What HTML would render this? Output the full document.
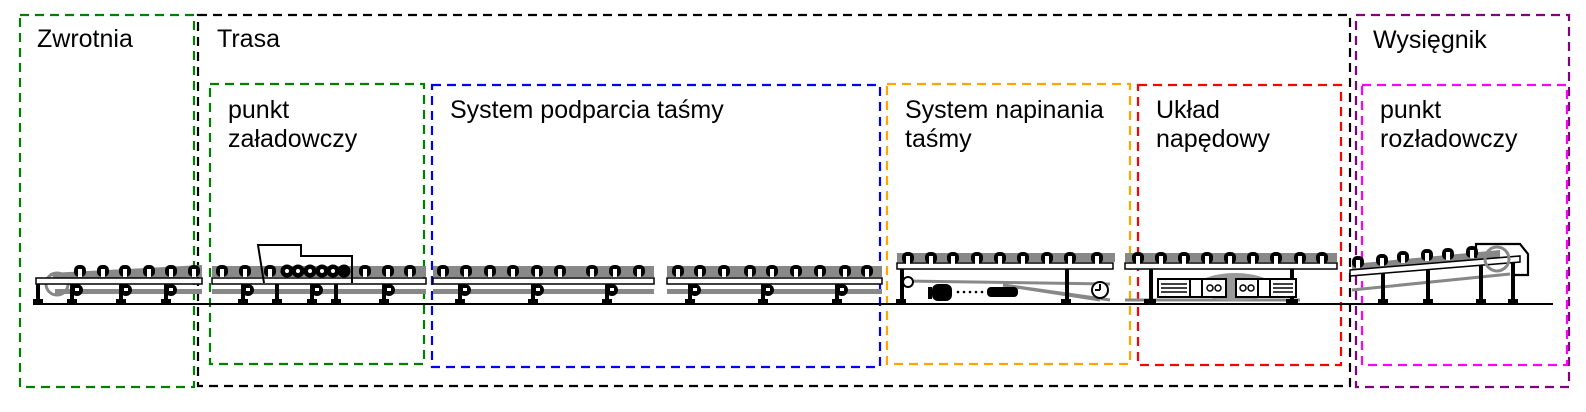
<!DOCTYPE html>
<html><head><meta charset="utf-8"><style>
html,body{margin:0;padding:0;background:#fff;}
svg{display:block;}
text{font-family:"Liberation Sans",Arial,sans-serif;font-size:25px;fill:#000;}
</style></head><body>
<svg width="1586" height="412" viewBox="0 0 1586 412" xmlns="http://www.w3.org/2000/svg">
<defs>
<g id="r"><rect x="-6" y="-1" width="12" height="12" rx="5" fill="#000"/><rect x="-2" y="3" width="4" height="8" fill="#fff"/></g>
<g id="leg"><rect x="-2" y="0" width="4" height="18" fill="#000"/><rect x="-5" y="15" width="10" height="5" fill="#000"/></g>
<g id="legb"><rect x="-2" y="0" width="4" height="18" fill="#000"/><rect x="-5" y="15" width="10" height="5" fill="#000"/><circle cx="5" cy="6" r="6" fill="#000"/><rect x="3" y="4" width="4" height="3" fill="#fff"/></g>
</defs>
<g fill="none" stroke-width="2.2" stroke-dasharray="9,6">
<rect x="20" y="15" width="174" height="372" stroke="#008000"/>
<rect x="198" y="15" width="1152" height="371" stroke="#000"/>
<rect x="1356" y="15" width="213" height="372" stroke="#800080"/>
<rect x="210" y="84" width="214" height="280" stroke="#008000"/>
<rect x="432" y="85" width="448" height="282" stroke="#0000ff"/>
<rect x="887" y="84" width="243" height="280" stroke="#ffa500"/>
<rect x="1138" y="85" width="203" height="280" stroke="#ff0000"/>
<rect x="1362" y="85" width="205" height="280" stroke="#ff00ff"/>
</g>
<text x="37" y="47">Zwrotnia</text>
<text x="217" y="47">Trasa</text>
<text x="1373" y="48">Wysięgnik</text>
<text x="228" y="118">punkt</text><text x="228" y="147">załadowczy</text>
<text x="450" y="118">System podparcia taśmy</text>
<text x="905" y="118">System napinania</text><text x="905" y="147">taśmy</text>
<text x="1156" y="118">Układ</text><text x="1156" y="147">napędowy</text>
<text x="1380" y="118">punkt</text><text x="1380" y="147">rozładowczy</text>

<line x1="33" y1="304" x2="1553" y2="304" stroke="#000" stroke-width="2"/>

<!-- seg1 -->
<polygon points="50,273 202,265 202,277 55,280" fill="#888"/>
<rect x="55" y="289" width="147" height="5" fill="#888"/>
<circle cx="57" cy="284" r="11" fill="none" stroke="#888" stroke-width="3"/>
<rect x="36" y="278" width="166" height="6" fill="#fff" stroke="#000" stroke-width="1.5"/>
<use href="#r" x="80" y="266"/><use href="#r" x="103" y="266"/><use href="#r" x="125" y="266"/><use href="#r" x="149" y="266"/><use href="#r" x="171" y="266"/><use href="#r" x="194" y="266"/>
<use href="#leg" x="38" y="284"/><use href="#legb" x="72" y="284"/><use href="#legb" x="121" y="284"/><use href="#legb" x="166" y="284"/>

<!-- seg2 -->
<rect x="212" y="266" width="214" height="11" fill="#888"/>
<rect x="212" y="289" width="214" height="5" fill="#888"/>
<rect x="212" y="278" width="214" height="6" fill="#fff" stroke="#000" stroke-width="1.5"/>
<use href="#r" x="222" y="266"/><use href="#r" x="245" y="266"/><use href="#r" x="270" y="266"/>
<g fill="#000"><circle cx="287" cy="271" r="6.5"/><circle cx="298" cy="271" r="6.5"/><circle cx="310" cy="271" r="6.5"/><circle cx="322" cy="271" r="6.5"/><circle cx="333" cy="271" r="6.5"/><circle cx="344" cy="271" r="6.5"/></g>
<g fill="#fff"><circle cx="287" cy="271" r="2"/><circle cx="298" cy="271" r="2"/><circle cx="310" cy="271" r="2"/><circle cx="322" cy="271" r="2"/><circle cx="333" cy="271" r="2"/></g>
<use href="#r" x="365" y="266"/><use href="#r" x="388" y="266"/><use href="#r" x="410" y="266"/>
<polyline points="264,283 258,245 301,245 301,256 352,256 352,283" fill="none" stroke="#000" stroke-width="2"/>
<use href="#legb" x="243" y="284"/><use href="#leg" x="277" y="284"/><use href="#legb" x="312" y="284"/><use href="#leg" x="336" y="284"/><use href="#legb" x="384" y="284"/>

<!-- seg3 -->
<rect x="433" y="266" width="221" height="11" fill="#888"/>
<rect x="433" y="289" width="221" height="5" fill="#888"/>
<rect x="433" y="278" width="221" height="6" fill="#fff" stroke="#000" stroke-width="1.5"/>
<use href="#r" x="443" y="266"/><use href="#r" x="466" y="266"/><use href="#r" x="490" y="266"/><use href="#r" x="513" y="266"/><use href="#r" x="537" y="266"/><use href="#r" x="560" y="266"/><use href="#r" x="592" y="266"/><use href="#r" x="615" y="266"/><use href="#r" x="639" y="266"/>
<use href="#legb" x="460" y="284"/><use href="#legb" x="533" y="284"/><use href="#legb" x="607" y="284"/>

<!-- seg4 -->
<rect x="667" y="266" width="215" height="11" fill="#888"/>
<rect x="667" y="289" width="215" height="5" fill="#888"/>
<rect x="667" y="278" width="215" height="6" fill="#fff" stroke="#000" stroke-width="1.5"/>
<use href="#r" x="678" y="266"/><use href="#r" x="700" y="266"/><use href="#r" x="724" y="266"/><use href="#r" x="750" y="266"/><use href="#r" x="772" y="266"/><use href="#r" x="796" y="266"/><use href="#r" x="820" y="266"/><use href="#r" x="845" y="266"/><use href="#r" x="867" y="266"/>
<use href="#legb" x="690" y="284"/><use href="#legb" x="763" y="284"/><use href="#legb" x="837" y="284"/>

<!-- seg5 -->
<rect x="897" y="253" width="218" height="9" fill="#888"/>
<rect x="897" y="263" width="216" height="6" fill="#fff" stroke="#000" stroke-width="1.5"/>
<use href="#r" x="908" y="253"/><use href="#r" x="931" y="253"/><use href="#r" x="953" y="253"/><use href="#r" x="977" y="253"/><use href="#r" x="1000" y="253"/><use href="#r" x="1023" y="253"/><use href="#r" x="1047" y="253"/><use href="#r" x="1070" y="253"/><use href="#r" x="1097" y="253"/>
<line x1="905" y1="281" x2="1110" y2="284" stroke="#888" stroke-width="3"/>
<line x1="1003" y1="285" x2="1100" y2="300" stroke="#888" stroke-width="3"/>
<line x1="1003" y1="285" x2="1110" y2="300" stroke="#888" stroke-width="3"/>
<rect x="900" y="269" width="4" height="31" fill="#000"/><rect x="896" y="299" width="10" height="4" fill="#000"/>
<rect x="1065" y="269" width="4" height="31" fill="#000"/><rect x="1061" y="299" width="10" height="4" fill="#000"/>
<circle cx="908" cy="282" r="5" fill="#fff" stroke="#000" stroke-width="2"/>
<rect x="928" y="287" width="4" height="12" fill="#000"/><rect x="932" y="284" width="20" height="17" rx="6" fill="#000"/>
<g fill="#000"><circle cx="958" cy="292" r="1.3"/><circle cx="964" cy="292" r="1.3"/><circle cx="970" cy="292" r="1.3"/><circle cx="976" cy="292" r="1.3"/><circle cx="982" cy="292" r="1.3"/></g>
<rect x="987" y="287" width="31" height="10" rx="4" fill="#000"/>
<circle cx="1100" cy="290" r="8" fill="#fff" stroke="#000" stroke-width="2"/><line x1="1100" y1="284" x2="1100" y2="290" stroke="#000" stroke-width="2"/><line x1="1100" y1="290" x2="1095" y2="290" stroke="#000" stroke-width="2"/>

<!-- seg6 -->
<rect x="1125" y="253" width="212" height="9" fill="#888"/>
<rect x="1125" y="263" width="212" height="6" fill="#fff" stroke="#000" stroke-width="1.5"/>
<use href="#r" x="1138" y="253"/><use href="#r" x="1161" y="253"/><use href="#r" x="1184" y="253"/><use href="#r" x="1207" y="253"/><use href="#r" x="1230" y="253"/><use href="#r" x="1253" y="253"/><use href="#r" x="1276" y="253"/><use href="#r" x="1300" y="253"/><use href="#r" x="1322" y="253"/>
<line x1="1125" y1="300" x2="1300" y2="300" stroke="#888" stroke-width="3"/>
<ellipse cx="1235" cy="287" rx="38" ry="14" fill="#999"/>
<rect x="1149" y="269" width="4" height="32" fill="#000"/><rect x="1144" y="299" width="12" height="4" fill="#000"/>
<rect x="1290" y="269" width="4" height="32" fill="#000"/><rect x="1286" y="299" width="12" height="4" fill="#000"/>
<g fill="#fff" stroke="#000" stroke-width="2">
<rect x="1158" y="279" width="32" height="18"/><rect x="1190" y="279" width="12" height="18"/><rect x="1202" y="279" width="24" height="18"/>
<rect x="1236" y="279" width="22" height="18"/><rect x="1258" y="279" width="12" height="18"/><rect x="1270" y="279" width="26" height="18"/>
</g>
<g stroke="#000" stroke-width="1.5"><line x1="1161" y1="284" x2="1187" y2="284"/><line x1="1161" y1="288" x2="1187" y2="288"/><line x1="1161" y1="292" x2="1187" y2="292"/><line x1="1273" y1="284" x2="1293" y2="284"/><line x1="1273" y1="288" x2="1293" y2="288"/><line x1="1273" y1="292" x2="1293" y2="292"/></g>
<g fill="none" stroke="#000" stroke-width="1.5"><circle cx="1210" cy="288" r="3"/><circle cx="1218" cy="288" r="3"/><circle cx="1243" cy="288" r="3"/><circle cx="1251" cy="288" r="3"/></g>

<!-- seg7 -->
<polygon points="1352,264 1500,250 1500,260 1352,272" fill="#888"/>
<line x1="1352" y1="290" x2="1510" y2="274" stroke="#888" stroke-width="3"/>
<g fill="#000">
<rect x="1381" y="270" width="4" height="32"/><rect x="1378" y="299" width="10" height="5"/>
<rect x="1426" y="266" width="4" height="36"/><rect x="1423" y="299" width="10" height="5"/>
<rect x="1479" y="262" width="4" height="40"/><rect x="1476" y="299" width="10" height="5"/>
<rect x="1511" y="258" width="4" height="44"/><rect x="1508" y="299" width="10" height="5"/>
</g>
<polygon points="1350,270 1520,256 1520,262 1350,276" fill="#fff" stroke="#000" stroke-width="1.5"/>
<use href="#r" x="1358" y="257"/><use href="#r" x="1382" y="255"/><use href="#r" x="1403" y="252"/><use href="#r" x="1427" y="250"/><use href="#r" x="1448" y="249"/><use href="#r" x="1472" y="247"/>
<circle cx="1497" cy="259" r="12" fill="none" stroke="#888" stroke-width="3"/>
<polyline points="1476,258 1476,244 1520,244 1528,254 1528,275 1515,275" fill="none" stroke="#000" stroke-width="2.2"/>
</svg>
</body></html>
